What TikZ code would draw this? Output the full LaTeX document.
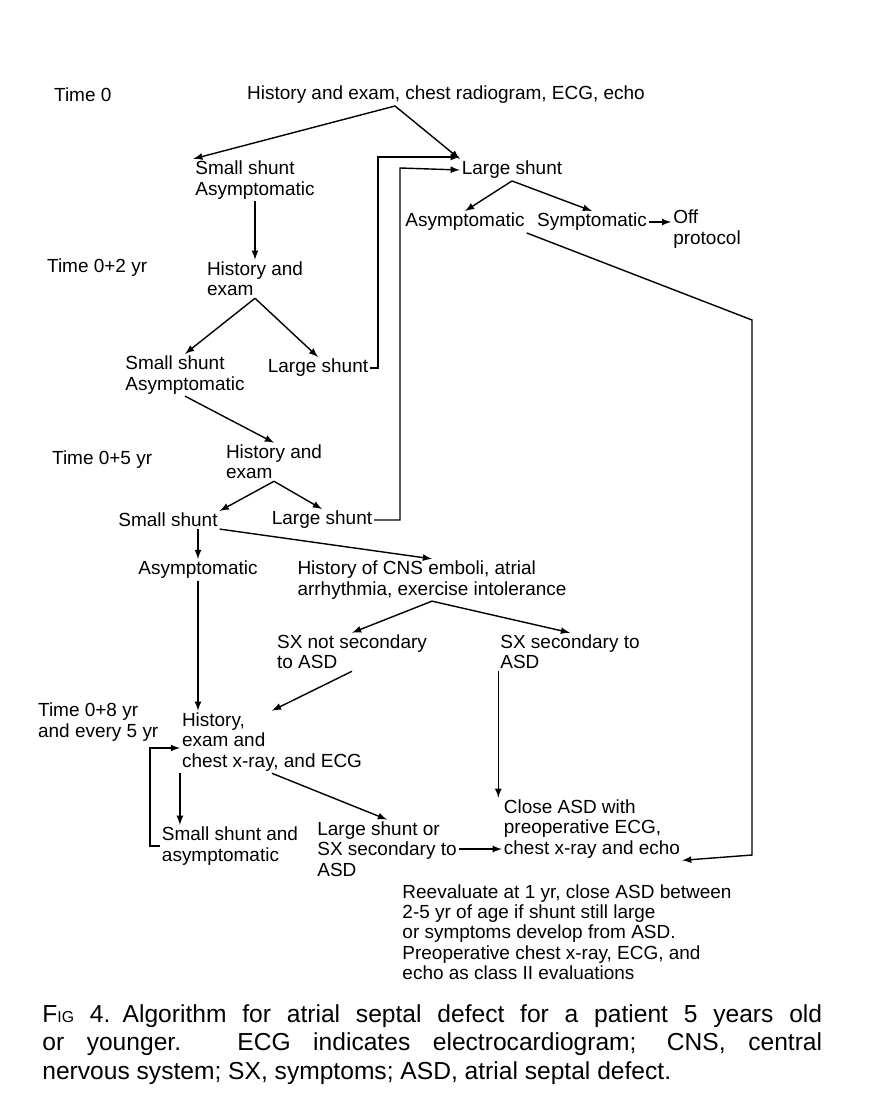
\documentclass[tikz,border=0pt]{standalone}
\usepackage{fontspec}
\setmainfont{Liberation Sans}
\usetikzlibrary{positioning}
\begin{document}
\begin{tikzpicture}[x=0.02cm,y=-0.02cm,
  txt/.style={font=\fontsize{10.8}{11.6}\selectfont,inner sep=1pt,align=left},
  arr/.style={-latex,thick}]
\useasboundingbox (0,0) rectangle (878,1111);
% Time labels
\node[txt,anchor=west] (time0) at (52,95) {Time 0};
\node[txt,anchor=west] (time2) at (45,268) {Time 0+2 yr};
\node[txt,anchor=west] (time5) at (50,460) {Time 0+5 yr};
\node[txt,anchor=west] (time8) at (36,722) {Time 0+8 yr\\and every 5 yr};
% Boxes of text
\node[txt] (top) at (446,95) {History and exam, chest radiogram, ECG, echo};
\node[txt] (ss1) at (255,180) {Small shunt\\Asymptomatic};
\node[txt] (ls1) at (512,170) {Large shunt};
\node[txt] (asy1) at (465,222) {Asymptomatic};
\node[txt] (sym1) at (592,222) {Symptomatic};
\node[txt] (off) at (707,229) {Off\\protocol};
\node[txt] (he2) at (255,279) {History and\\exam};
\node[txt] (ss2) at (185,375) {Small shunt\\Asymptomatic};
\node[txt] (ls2) at (318,368) {Large shunt};
\node[txt] (he5) at (274,462) {History and\\exam};
\node[txt] (ss5) at (168,520) {Small shunt};
\node[txt] (ls5) at (322,520) {Large shunt};
\node[txt] (asy5) at (198,570) {Asymptomatic};
\node[txt] (hist) at (432,580) {History of CNS emboli, atrial\\arrhythmia, exercise intolerance};
\node[txt] (sxn) at (352,652) {SX not secondary\\to ASD};
\node[txt] (sxs) at (570,652) {SX secondary to\\ASD};
\node[txt] (h8) at (272,742) {History,\\exam and\\chest x-ray, and ECG};
\node[txt] (ss8) at (230,846) {Small shunt and\\asymptomatic};
\node[txt] (ls8) at (387,849) {Large shunt or\\SX secondary to\\ASD};
\node[txt] (close) at (592,829) {Close ASD with\\preoperative ECG,\\chest x-ray and echo};
\node[txt] (reeval) at (567,932) {Reevaluate at 1 yr, close ASD between\\2-5 yr of age if shunt still large\\or symptoms develop from ASD.\\Preoperative chest x-ray, ECG, and\\echo as class II evaluations};
% Caption
\node[font=\fontsize{14}{16.2}\selectfont,inner sep=0pt,align=justify,anchor=north west,text width=15.6cm] (cap) at (42,1004)
  {F{\small IG} 4.\enspace Algorithm for atrial septal defect for a patient 5 years old\linebreak or younger. ECG indicates electrocardiogram; CNS, central\linebreak nervous system; SX, symptoms; ASD, atrial septal defect.};
% Connectors
\coordinate (topS) at (395,106);
\draw[arr] (topS) -- (ss1.north west);
\draw[arr] (topS) -- (ls1.north west);
\draw[arr] (ls1.south) -- (asy1.north);
\draw[arr] (ls1.south) -- (sym1.north);
\draw[arr] (sym1) -- (off.west |- sym1);
\draw[arr] (ss1.south -| he2) -- (he2.north);
\draw[arr] (he2.south) -- (ss2.north);
\draw[arr] (he2.south) -- (ls2.north);
\draw[arr] (ss2.south) -- (he5.north);
\draw[arr] (he5.south) -- (ss5.north east);
\draw[arr] (he5.south) -- (ls5.north);
\draw[arr] (ss5.south -| asy5) -- (asy5.north);
\draw[arr] (ss5.south east) -- (hist.north);
\draw[arr] (hist.south) -- (sxn.north);
\draw[arr] (hist.south) -- (sxs.north);
\draw[arr] (asy5.south) -- (asy5.south |- h8.north);
\draw[arr] (sxn.south) -- (h8.north);
\draw[arr] (sxs.south west) -- (sxs.south west |- close.north);
\draw[arr] (h8.south west) -- (h8.south west |- ss8.north);
\draw[arr] (h8.south) -- (ls8.north);
\draw[arr] (ls8) -- (close.west |- ls8);
% Loops back
\draw[arr] (ls2.east) -| (378,157) -- (ls1.west |- 0,157);
\draw[arr] (ls5.east) -| (400,168) -- (ls1.west);
\draw[arr] (ss8.west) -| (150,748) -- (h8.west |- 0,748);
\draw[arr] (asy1.south east) -- (752,320) -- (752,855) -- (close.south east);
\end{tikzpicture}
\end{document}
